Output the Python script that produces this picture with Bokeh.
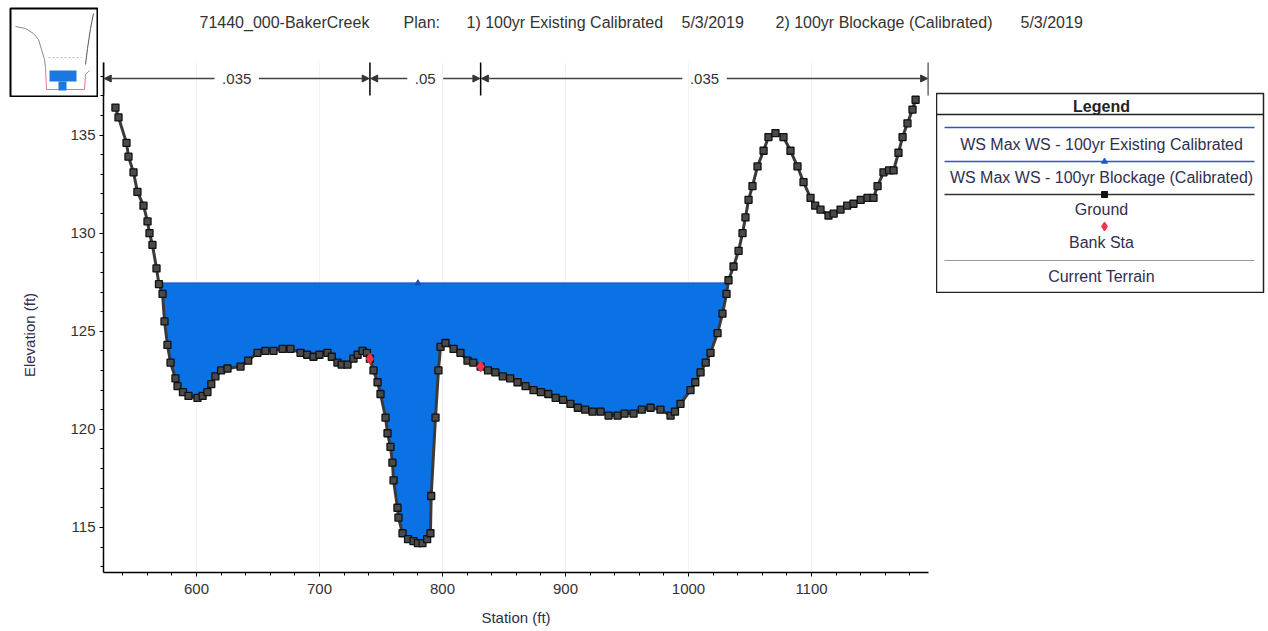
import numpy as np
from bokeh.plotting import figure
from bokeh.layouts import column, row
from bokeh.models import Range1d, Label, Arrow, NormalHead, FixedTicker
from bokeh.embed import file_html
from bokeh.resources import INLINE
from bokeh.core.properties import value

# ---------------- data ----------------
station = [534.1, 536.6, 543.1, 544.7, 548.8, 552.0, 556.9, 560.2, 561.8, 564.2, 567.5, 569.5,
           572.4, 574.0, 576.4, 578.9, 582.9, 584.6, 589.0, 593.5, 600.8, 605.0, 608.9, 612.0,
           615.4, 620.0, 625.2, 635.8, 642.0, 649.6, 656.0, 662.6, 670.0, 676.4, 684.6, 690.0,
           695.1, 700.0, 706.5, 710.0, 714.6, 718.0, 722.8, 727.6, 731.0, 735.0, 738.5, 741.0,
           743.9, 747.2, 749.6, 753.7, 755.3, 757.7, 759.3, 760.2, 763.4, 764.2, 767.5, 772.0,
           776.4, 780.0, 783.7, 787.5, 790.2, 790.8, 794.3, 796.7, 798.4, 802.4, 809.0, 814.6,
           820.3, 825.0, 831.0, 837.0, 843.0, 849.0, 855.0, 861.0, 867.5, 874.0, 880.0, 886.0,
           892.0, 898.0, 904.0, 910.0, 916.0, 922.0, 928.5, 935.0, 942.3, 948.0, 955.3, 962.0,
           969.1, 977.2, 985.4, 989.0, 993.5, 1001.6, 1005.5, 1009.8, 1014.0, 1017.9, 1023.6,
           1027.6, 1030.9, 1032.5, 1036.6, 1040.7, 1043.9, 1046.3, 1048.8, 1052.0, 1056.1, 1061.0,
           1065.0, 1070.7, 1077.2, 1082.9, 1088.6, 1093.5, 1099.2, 1103.0, 1107.3, 1113.8, 1118.0,
           1123.6, 1129.0, 1134.1, 1140.0, 1145.5, 1150.4, 1153.7, 1158.5, 1163.0, 1166.7, 1170.7,
           1174.0, 1178.0, 1182.1, 1184.6]
elevation = [136.4, 135.9, 134.6, 133.9, 133.1, 132.1, 131.4, 130.6, 130.0, 129.4, 128.2, 127.4,
             126.9, 125.5, 124.3, 123.4, 122.6, 122.2, 121.9, 121.7, 121.6, 121.7, 121.9, 122.3,
             122.7, 123.0, 123.1, 123.2, 123.5, 123.9, 124.0, 124.0, 124.1, 124.1, 123.9, 123.8,
             123.7, 123.8, 123.9, 123.7, 123.4, 123.3, 123.3, 123.6, 123.8, 124.0, 123.9, 123.6,
             123.0, 122.4, 121.8, 120.6, 119.8, 119.1, 118.3, 117.4, 116.0, 115.5, 114.7, 114.4,
             114.3, 114.2, 114.2, 114.4, 114.7, 116.6, 120.6, 123.0, 124.2, 124.4, 124.1, 123.9,
             123.5, 123.4, 123.2, 123.0, 122.9, 122.7, 122.6, 122.4, 122.2, 122.0, 121.9, 121.8,
             121.6, 121.5, 121.3, 121.1, 121.0, 120.9, 120.9, 120.7, 120.7, 120.8, 120.8, 121.0,
             121.1, 121.0, 120.7, 120.9, 121.3, 122.0, 122.4, 122.9, 123.4, 123.9, 124.9,
             125.9, 126.9, 127.6, 128.3, 129.1, 130.0, 130.8, 131.7, 132.4, 133.4, 134.2,
             134.9, 135.1, 134.9, 134.2, 133.4, 132.6, 131.8, 131.4, 131.2, 130.9, 131.0,
             131.2, 131.4, 131.5, 131.7, 131.8, 131.8, 132.4, 133.1, 133.2, 133.2, 134.1,
             134.9, 135.6, 136.3, 136.8]
bank_station = [741.0, 831.0]
bank_elevation = [123.6, 123.2]
ws_existing = 127.45
ws_blockage = 127.45
ws_marker_station = [780.0]
n_values = [".035", ".05", ".035"]
n_bounds = [524.4, 741.0, 831.0, 1195.0]
x_ticks = [600, 700, 800, 900, 1000, 1100]
y_ticks = [115, 120, 125, 130, 135]
title_parts = ["71440_000-BakerCreek", "Plan:", "1) 100yr Existing Calibrated", "5/3/2019",
               "2) 100yr Blockage (Calibrated)", "5/3/2019"]
legend_labels = ["WS Max WS - 100yr Existing Calibrated", "WS Max WS - 100yr Blockage (Calibrated)",
                 "Ground", "Bank Sta", "Current Terrain"]

# thumbnail sketch (overview picture, in its own little frame units)
thumb_terrain_x = [5, 15, 23, 28, 31, 34, 35]
thumb_terrain_y = [18, 20, 25, 31, 41, 51, 59]
thumb_channel_x = [35, 36, 74, 75, 79]
thumb_channel_y = [59, 81, 81, 66, 62]
thumb_right_x = [75, 77, 80, 83]
thumb_right_y = [56, 40, 20, 5]

FONT = "Liberation Sans"
TXT = "#333333"

# ---------------- layout constants (page pixels) ----------------
W, H = 1266, 631
X0, X1 = 524.4, 1195.1
Y0, Y1 = 112.7, 138.7
FL, FT, FR, FB = 103, 62, 928, 572      # main frame
LCOL = 98                               # width of left column (thumbnail + y labels)
THUMB_H = 97
LX, LY, LW, LH = 936, 93, 327, 200      # legend box
FW, FH = FR - FL, FB - FT


def px_y(py):
    return Y1 - (py - FT) * (Y1 - Y0) / FH


def style_axis(ax):
    ax.axis_line_color = "black"
    ax.axis_line_width = 1.5
    ax.major_tick_line_color = "black"
    ax.minor_tick_line_color = "black"
    ax.major_tick_in = 0
    ax.major_tick_out = 4
    ax.minor_tick_in = 0
    ax.minor_tick_out = 3
    ax.major_label_text_font = FONT
    ax.major_label_text_font_size = "15px"
    ax.major_label_text_color = TXT
    ax.axis_label_text_font = FONT
    ax.axis_label_text_font_size = "15px"
    ax.axis_label_text_font_style = "normal"
    ax.axis_label_text_color = "#2d2d4d"


# ---------------- main plot ----------------
MW, MH = LX - LCOL, H - FT
p = figure(width=MW, height=MH, x_range=Range1d(X0, X1), y_range=Range1d(Y0, Y1),
           output_backend="svg", toolbar_location=None,
           min_border_left=FL - LCOL, min_border_right=LX - FR, min_border_top=0,
           min_border_bottom=H - FB)
p.outline_line_color = None
p.background_fill_color = "white"
p.xgrid.grid_line_color = "#f2f2f2"
p.ygrid.grid_line_color = None
p.xaxis.ticker = FixedTicker(ticks=x_ticks, minor_ticks=list(range(520, 1200, 20)))
p.yaxis.ticker = FixedTicker(ticks=y_ticks, minor_ticks=list(range(113, 139)))
style_axis(p.xaxis[0])
style_axis(p.yaxis[0])
p.xaxis.axis_label = "Station (ft)"
p.xaxis.major_label_standoff = 7
p.xaxis.axis_label_standoff = 12
p.yaxis.major_label_overrides = {v: "" for v in y_ticks}
p.yaxis.major_label_standoff = 0

# water polygon
st = np.array(station)
el = np.array(elevation)
ws = ws_blockage
wet = np.where(el < ws)[0]
i0, i1 = wet[0], wet[-1]
xl = st[i0 - 1] + (ws - el[i0 - 1]) * (st[i0] - st[i0 - 1]) / (el[i0] - el[i0 - 1])
xr = st[i1] + (ws - el[i1]) * (st[i1 + 1] - st[i1]) / (el[i1 + 1] - el[i1])
wx = [xl] + list(st[i0:i1 + 1]) + [xr]
wy = [ws] + list(el[i0:i1 + 1]) + [ws]
p.patch(wx, wy, fill_color="#0b72e6", line_color=None)
p.line([xl, xr], [ws_existing, ws_existing], line_color="#1f5fd0", line_width=1.5)
p.line([xl, xr], [ws_blockage, ws_blockage], line_color="#1f5fd0", line_width=1.0)
p.scatter(ws_marker_station, [ws_blockage], marker="triangle", size=6,
          fill_color="#1a4fb8", line_color="#1a4fb8")

# ground
p.line(station, elevation, line_color="#3a3a3a", line_width=3)
p.scatter(station, elevation, marker="square", size=7, fill_color="#4a4a4a", line_color="#111111",
          line_width=1.3)
p.scatter(bank_station, bank_elevation, marker="diamond", size=11, fill_color="#f0344c",
          line_color="#f0344c")

# n-value bars
ny = px_y(78)
p.segment(x0=n_bounds, y0=[px_y(95)] * len(n_bounds), x1=n_bounds, y1=[px_y(58)] * len(n_bounds),
          line_color="black", line_width=1.5)
for i, nv in enumerate(n_values):
    a, b = n_bounds[i], n_bounds[i + 1]
    mid = (a + b) / 2
    half = (4.3 * len(nv) + 5) * (X1 - X0) / FW
    head = dict(size=7, fill_color="#333333", line_color="#333333")
    p.add_layout(Arrow(end=NormalHead(**head), x_start=mid - half, y_start=ny, x_end=a + 0.6, y_end=ny,
                       line_color="#444444", line_width=1.3))
    p.add_layout(Arrow(end=NormalHead(**head), x_start=mid + half, y_start=ny, x_end=b - 0.6, y_end=ny,
                       line_color="#444444", line_width=1.3))
    p.add_layout(Label(x=mid, y=ny, text=nv, text_align="center", text_baseline="middle",
                       text_font=FONT, text_font_size="15px", text_color=TXT))

# ---------------- y tick labels + axis title (left column, below thumbnail) ----------------
ylab = figure(width=LCOL, height=H - THUMB_H, x_range=Range1d(0, 1), y_range=Range1d(Y0, px_y(THUMB_H)),
              output_backend="svg", toolbar_location=None,
              min_border_left=LCOL - 1, min_border_right=0, min_border_top=0, min_border_bottom=H - FB,
              x_axis_location=None)
ylab.grid.visible = False
ylab.outline_line_color = None
ylab.yaxis.ticker = FixedTicker(ticks=y_ticks, minor_ticks=[])
style_axis(ylab.yaxis[0])
ylab.yaxis.axis_line_color = None
ylab.yaxis.major_tick_line_color = None
ylab.yaxis.minor_tick_line_color = None
ylab.yaxis.major_tick_out = 0
ylab.yaxis.minor_tick_out = 0
ylab.yaxis.major_label_standoff = 2
ylab.yaxis.axis_label = "Elevation (ft)"
ylab.yaxis.axis_label_standoff = 29

# ---------------- thumbnail ----------------
thumb = figure(width=LCOL, height=THUMB_H, x_range=Range1d(0, 87), y_range=Range1d(88, 0),
               output_backend="svg", toolbar_location=None,
               min_border_left=10, min_border_top=8, min_border_right=1, min_border_bottom=1,
               x_axis_location=None, y_axis_location=None)
thumb.grid.visible = False
thumb.outline_line_color = "black"
thumb.outline_line_width = 2
thumb.line(thumb_terrain_x, thumb_terrain_y, line_color="#888888", line_width=1)
thumb.line(thumb_channel_x, thumb_channel_y, line_color="#e07a8a", line_width=1)
thumb.line(thumb_right_x, thumb_right_y, line_color="#555555", line_width=1)
thumb.line([38, 71], [49, 49], line_color="#bbbbbb", line_width=1, line_dash="2 2")
thumb.quad(left=[39, 48], right=[66, 56], top=[62, 73], bottom=[73, 82], fill_color="#1a78e0",
           line_color=None)

# ---------------- title strip ----------------
tfig = figure(width=W - LCOL, height=FT, x_range=Range1d(LCOL, W), y_range=Range1d(FT, 0),
              output_backend="svg", toolbar_location=None, min_border=0,
              x_axis_location=None, y_axis_location=None)
tfig.grid.visible = False
tfig.outline_line_color = None
title_px = [199, 403, 466, 681, 775, 1020]
tfig.text(x=title_px, y=[22] * len(title_parts), text=title_parts, text_align="left",
          text_baseline="middle", text_font=value(FONT), text_font_size="16px", text_color=TXT)

# ---------------- legend box ----------------
leg = figure(width=W - LX, height=LY - FT + LH, x_range=Range1d(0, LW), y_range=Range1d(LH, 0),
             output_backend="svg", toolbar_location=None,
             min_border_left=0, min_border_top=LY - FT, min_border_right=W - LX - LW, min_border_bottom=0,
             x_axis_location=None, y_axis_location=None)
leg.grid.visible = False
leg.outline_line_color = "#222222"
leg.outline_line_width = 1.5
cx = 165
leg.text(x=[cx], y=[13], text=["Legend"], text_align="center", text_baseline="middle",
         text_font=value(FONT), text_font_size="16px", text_font_style="bold", text_color="#222222")
leg.segment(x0=[0], y0=[21], x1=[LW], y1=[21], line_color="#222222", line_width=1.5)
leg.segment(x0=[8, 8], y0=[34, 68], x1=[318, 318], y1=[34, 68], line_color="#2a55d0", line_width=1.5)
leg.segment(x0=[8], y0=[101], x1=[318], y1=[101], line_color="#333333", line_width=1.5)
leg.segment(x0=[8], y0=[167], x1=[318], y1=[167], line_color="#999999", line_width=1)
leg.scatter([cx + 3], [68], marker="triangle", size=6, color="#2a55d0")
leg.scatter([cx + 3], [101], marker="square", size=6, color="#111111")
leg.scatter([cx + 3], [133], marker="diamond", size=9, color="#f0344c")
leg.text(x=[cx] * 5, y=[51, 84, 116, 149, 183], text=legend_labels, text_align="center",
         text_baseline="middle", text_font=value(FONT), text_font_size="16px", text_color="#2f2f50")

# each small figure sits in its own column so that its borders are not aligned with its neighbours
left_col = column(column(thumb), column(ylab), spacing=0)
right_col = column(tfig, row(p, column(leg), spacing=0), spacing=0)
layout = row(left_col, right_col, spacing=0)
open("out.html", "w").write(file_html(layout, INLINE))
